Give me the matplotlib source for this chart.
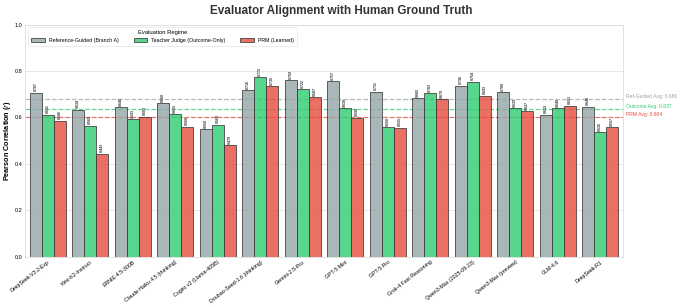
import numpy as np
import matplotlib
matplotlib.use("Agg")
import matplotlib.pyplot as plt

# data
models = ["DeepSeek-V3.2-Exp", "Kimi-K2-Instruct", "ERNIE-4.5-300B",
          "Claude Haiku 4.5 (thinking)", "Cogito v2 (Llama-405B)",
          "Doubao-Seed-1.6 (thinking)", "Gemini-2.5-Pro", "GPT-5 Mini",
          "GPT-5 Pro", "Grok-4 Fast Reasoning", "Qwen3-Max (2025-09-23)",
          "Qwen3-Max (preview)", "GLM-4.6", "DeepSeek-R1"]
ref_guided = [0.707, 0.634, 0.645, 0.660, 0.550, 0.716, 0.759,
              0.757, 0.711, 0.682, 0.736, 0.709, 0.612, 0.646]
teacher = [0.611, 0.565, 0.591, 0.615, 0.568, 0.772, 0.722,
           0.639, 0.558, 0.703, 0.754, 0.639, 0.640, 0.536]
prm = [0.586, 0.443, 0.603, 0.560, 0.479, 0.735, 0.687,
       0.598, 0.555, 0.679, 0.693, 0.627, 0.651, 0.557]
series_names = ["Reference-Guided (Branch A)", "Teacher Judge (Outcome-Only)", "PRM (Learned)"]
avg_names = ["Ref-Guided Avg", "Outcome Avg", "PRM Avg"]
colors = ["#95a5a6", "#2ecc71", "#e74c3c"]

plt.rcParams['font.family'] = ['Liberation Sans', 'DejaVu Sans']

fig = plt.figure(figsize=(6.82, 3.07), dpi=100)
ax = fig.add_axes([0.037, 0.164, 0.876, 0.756])

x = np.arange(len(models))
w = 0.28
for i, (vals, name, c) in enumerate(zip([ref_guided, teacher, prm], series_names, colors)):
    pos = x + (i - 1) * w
    bars = ax.bar(pos, vals, w, color=c, alpha=0.8, edgecolor="#3a3a3a",
                  linewidth=0.7, label=name, zorder=3)
    for b, v in zip(bars, vals):
        ax.text(b.get_x() + b.get_width() / 2, v + 0.006, f"{v:.3f}",
                rotation=90, ha="center", va="bottom", fontsize=2.6,
                fontweight="bold", color="#333333")

# average lines
for vals, name, c in zip([ref_guided, teacher, prm], avg_names, colors):
    m = np.mean(vals)
    ax.axhline(m, color=c, linestyle="--", linewidth=0.9, alpha=0.75, zorder=2)
    ax.text(1.006, m, f"{name}: {m:.3f}", transform=ax.get_yaxis_transform(),
            color=c, fontsize=3.6, va="bottom", ha="left")

ax.set_xlim(-0.53, len(models) - 0.47)
ax.set_ylim(0, 1.0)
ax.set_yticks(np.arange(0, 1.01, 0.2))
ax.set_yticklabels([f"{t:.1f}" for t in np.arange(0, 1.01, 0.2)], fontsize=4)
ax.set_xticks(x)
ax.set_xticklabels(models, rotation=38, ha="right", fontsize=3.8, rotation_mode="anchor")
ax.tick_params(axis="both", length=0, pad=2)
ax.grid(axis="y", color="#e3e3e3", linewidth=0.6, zorder=0)
for s in ax.spines.values():
    s.set_color("#dddddd")
    s.set_linewidth(0.6)

ax.set_ylabel("Pearson Correlation ($r$)", fontsize=5.2, fontweight="bold", labelpad=1)
fig.suptitle("Evaluator Alignment with Human Ground Truth", fontsize=8.5,
             fontweight="bold", y=0.985, color="#333333")

leg = ax.legend(loc="upper left", ncol=3, fontsize=3.8, title="Evaluation Regime",
                title_fontsize=4.2, frameon=True, handlelength=2.6, columnspacing=2.8,
                borderpad=0.6)
leg.get_frame().set_edgecolor("#dddddd")
leg.get_frame().set_linewidth(0.5)

fig.savefig("out.png", dpi=100)
